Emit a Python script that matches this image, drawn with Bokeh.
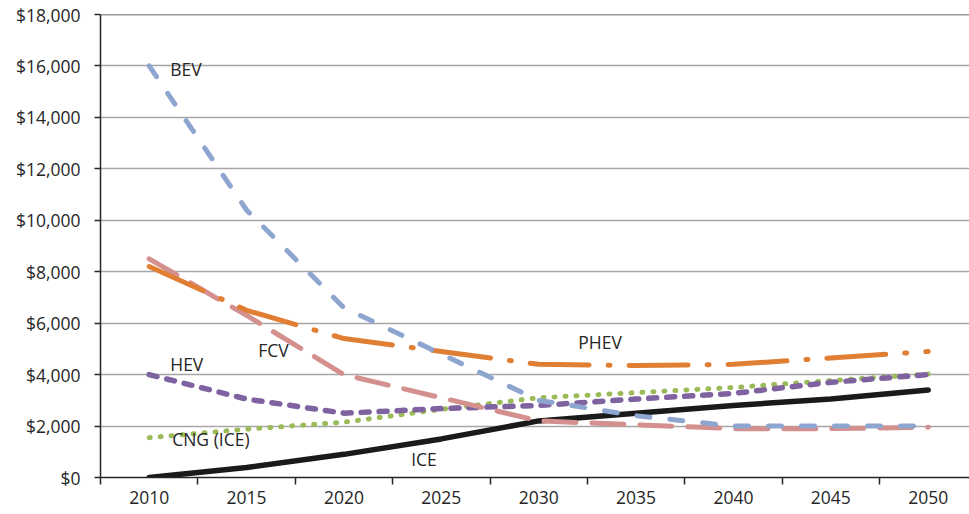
from bokeh.plotting import figure
from bokeh.models import Range1d, FixedTicker, NumeralTickFormatter, Span
from bokeh.core.properties import value
from bokeh.embed import file_html
from bokeh.resources import INLINE

years = [2010, 2015, 2020, 2025, 2030, 2035, 2040, 2045, 2050]
bev = [16000, 10400, 6600, 4800, 3000, 2400, 2000, 2000, 2000]
phev = [8200, 6500, 5400, 4900, 4400, 4350, 4400, 4650, 4900]
fcv = [8500, 6300, 4000, 3100, 2200, 2050, 1900, 1900, 1950]
hev = [4000, 3050, 2500, 2680, 2800, 3050, 3270, 3700, 4000]
cng = [1550, 1880, 2150, 2650, 3100, 3300, 3500, 3770, 4020]
ice = [0, 390, 900, 1500, 2200, 2500, 2800, 3050, 3400]

y_ticks = [0, 2000, 4000, 6000, 8000, 10000, 12000, 14000, 16000, 18000]
x_labels = [2010, 2015, 2020, 2025, 2030, 2035, 2040, 2045, 2050]
x_minor = [2007.5, 2012.5, 2017.5, 2022.5, 2027.5, 2032.5, 2037.5, 2042.5, 2047.5]

label_text = ["BEV", "PHEV", "FCV", "HEV", "CNG (ICE)", "ICE"]
label_x = [2011.08, 2032.03, 2015.6, 2011.08, 2011.18, 2023.45]
label_y = [15900, 5250, 4950, 4430, 1480, 700]

FONT = "Open Sans"
FS = "17.5px"

p = figure(frame_width=869, frame_height=463, min_border_left=100, min_border_right=0,
           min_border_top=14, min_border_bottom=37,
           x_range=Range1d(2007.5, 2052.12), y_range=Range1d(0, 18000),
           output_backend="svg", toolbar_location=None)
p.outline_line_color = None

# grid
p.xgrid.grid_line_color = None
p.ygrid.grid_line_color = "#a6a6a6"
p.ygrid.grid_line_width = 1.5
p.ygrid.ticker = FixedTicker(ticks=y_ticks)
p.add_layout(Span(location=18000, dimension="width", line_color="#333333", line_width=1.5))

# axes
p.yaxis.ticker = FixedTicker(ticks=y_ticks)
p.yaxis.formatter = NumeralTickFormatter(format="$0,0")
p.yaxis.major_label_text_font = FONT
p.yaxis.major_label_text_font_size = FS
p.yaxis.major_label_text_color = "#262626"
p.yaxis.axis_line_color = "#262626"
p.yaxis.axis_line_width = 1.5
p.yaxis.major_tick_line_color = "#262626"
p.yaxis.major_tick_line_width = 1.5
p.yaxis.major_tick_out = 6
p.yaxis.major_tick_in = 0
p.yaxis.minor_tick_line_color = None
p.yaxis.major_label_standoff = 14

p.xaxis.ticker = FixedTicker(ticks=x_labels, minor_ticks=x_minor)
p.xaxis.major_label_text_font = FONT
p.xaxis.major_label_text_font_size = FS
p.xaxis.major_label_text_color = "#262626"
p.xaxis.axis_line_color = "#262626"
p.xaxis.axis_line_width = 1.5
p.xaxis.major_tick_line_color = None
p.xaxis.major_tick_out = 7
p.xaxis.minor_tick_line_color = "#262626"
p.xaxis.minor_tick_line_width = 1.5
p.xaxis.minor_tick_out = 7
p.xaxis.minor_tick_in = 0
p.xaxis.major_label_standoff = 6

W = 5
p.line(years, ice, line_color="#1a1a1a", line_width=W + 0.5, line_join="round", line_cap="round")
p.line(years, cng, line_color="#9bbb59", line_width=W, line_dash="1 10", line_cap="round", line_join="round")
p.line(years, hev, line_color="#7f63a1", line_width=W + 0.5, line_dash="8 10", line_cap="round", line_join="round")
p.line(years, fcv, line_color="#d4908f", line_width=W, line_dash="32 16", line_cap="round", line_join="round")
p.line(years, phev, line_color="#e07f34", line_width=W, line_dash="59 19 2 19", line_cap="round", line_join="round")
p.line(years, bev, line_color="#8ea6cf", line_width=W, line_dash="13 20", line_cap="round", line_join="round")

p.text(x=label_x, y=label_y, text=label_text, text_font=value(FONT), text_font_size=FS,
       text_color="#262626", text_baseline="middle", text_align="left")

open("out.html", "w").write(file_html(p, INLINE))
